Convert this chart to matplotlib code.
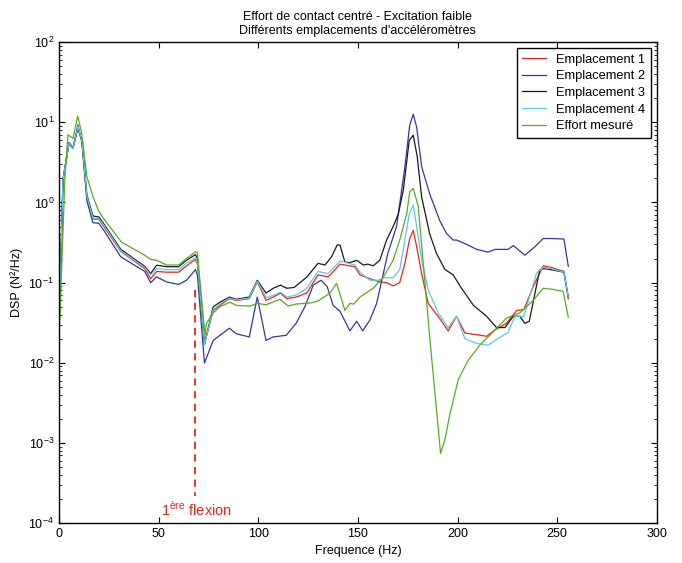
import matplotlib
matplotlib.use("Agg")
import matplotlib.pyplot as plt
from matplotlib.ticker import LogLocator, NullFormatter

plt.rcParams['font.family'] = ['Liberation Sans', 'DejaVu Sans']
plt.rcParams['mathtext.fontset'] = 'custom'
plt.rcParams['mathtext.rm'] = 'Liberation Sans'

# common low-frequency part (0 - 70 Hz)
f_low = [0, 2, 5, 7, 9.5, 11.5, 14, 17, 20, 23, 31, 43, 46, 49, 54, 60, 64, 68.5, 69.5, 73]

# Emplacement 1
f1 = f_low + [77.4, 80.8, 85.5, 89, 95.5, 99.5, 103.9, 107.5, 111.2, 114.3, 119, 124.3,
              130, 135, 136.8, 141, 148.5, 151, 156, 161, 164.4, 167.7, 171, 173.6, 176,
              177.8, 179.5, 182, 185.3, 190.3, 195.3, 199.5, 203.7, 209.6, 214.6, 218.8,
              224.6, 229.7, 233.3, 238, 243, 247, 253.4, 255.6]
dsp1 = [0.025, 1.9, 5.4, 4.7, 8.6, 5.8, 1.15, 0.62, 0.62, 0.48, 0.245, 0.15, 0.112, 0.138,
        0.135, 0.135, 0.162, 0.195, 0.17, 0.017,
        0.045, 0.052, 0.063, 0.06, 0.063, 0.102, 0.06, 0.066, 0.074, 0.063, 0.066, 0.074,
        0.125, 0.118, 0.13, 0.17, 0.158, 0.125, 0.112, 0.102, 0.10, 0.091, 0.10, 0.174, 0.355,
        0.45, 0.28, 0.13, 0.055, 0.038, 0.025, 0.038, 0.0235, 0.0224, 0.0214, 0.0257,
        0.031, 0.045, 0.046, 0.089, 0.162, 0.155, 0.138, 0.063]

# Emplacement 2
f2 = f_low + [77.4, 80.8, 85.5, 89, 95.5, 99.5, 103.9, 107.5, 114, 119, 123.4, 127.6,
              131.5, 134.6, 137.6, 141, 146, 149.4, 152.4, 156, 159.4, 165, 169.4, 173.6,
              176, 177.8, 179.5, 182, 186, 191, 194.5, 197.8, 199.5, 204.6, 209.6, 215.4,
              218.8, 225.4, 228, 233.8, 238.8, 243, 247.2, 253.4, 255.6]
dsp2 = [0.025, 1.9, 5.6, 4.8, 9.3, 5.6, 1.05, 0.56, 0.55, 0.43, 0.21, 0.138, 0.10, 0.118,
        0.102, 0.095, 0.107, 0.145, 0.123, 0.0099,
        0.019, 0.022, 0.027, 0.023, 0.021, 0.066, 0.019, 0.021, 0.022, 0.031, 0.05, 0.093,
        0.107, 0.089, 0.052, 0.044, 0.025, 0.033, 0.025, 0.034, 0.055, 0.23, 0.50, 2.8,
        9.2, 12.6, 8.7, 2.8, 1.29, 0.60, 0.41, 0.34, 0.34, 0.30, 0.26, 0.24,
        0.26, 0.26, 0.29, 0.22, 0.28, 0.355, 0.355, 0.35, 0.16]

# Emplacement 3
f3 = f_low + [77.4, 80.8, 85.5, 89, 95.5, 99.5, 103.9, 107.5, 111.2, 114.3, 118, 124.3,
              130, 133.5, 136.8, 139.6, 141, 143.5, 146, 149.4, 152.7, 155, 157.7, 161,
              164.4, 167.7, 170.3, 172.8, 175.8, 177.8, 179.8, 182, 186, 189.5, 193.7,
              197.8, 202, 208, 214.6, 219.6, 223.8, 228, 231.3, 233.8, 236, 241.3, 243.3,
              247, 253.4, 255.6]
dsp3 = [0.025, 1.9, 5.5, 4.8, 8.5, 6.0, 1.25, 0.68, 0.66, 0.52, 0.26, 0.16, 0.13, 0.165,
        0.158, 0.158, 0.19, 0.224, 0.2, 0.017,
        0.05, 0.057, 0.066, 0.062, 0.066, 0.107, 0.074, 0.085, 0.093, 0.085, 0.087, 0.117,
        0.174, 0.166, 0.21, 0.295, 0.295, 0.18, 0.178, 0.19, 0.166, 0.17, 0.162, 0.19,
        0.34, 0.50, 0.72, 1.43, 6.0, 6.9, 3.7, 1.17, 0.41, 0.23, 0.146,
        0.125, 0.085, 0.052, 0.038, 0.0275, 0.0275, 0.038, 0.038, 0.031, 0.033, 0.145,
        0.15, 0.145, 0.135, 0.066]

# Emplacement 4
f4 = f_low + [77.4, 80.8, 85.5, 89, 95.5, 99.5, 103.9, 107.5, 111.2, 114.3, 119, 124.3,
              130, 135, 141, 148.5, 151, 156, 160, 163.6, 167.7, 171, 173.6, 175.8, 177.8,
              179.5, 182, 185.3, 190.3, 195.3, 199.5, 203.7, 209.6, 215.4, 219.6, 225.4,
              228.8, 233.3, 239.7, 243, 247, 253.4, 255.6]
dsp4 = [0.025, 1.9, 5.5, 4.7, 8.9, 5.9, 1.2, 0.64, 0.63, 0.50, 0.25, 0.155, 0.125, 0.15,
        0.145, 0.145, 0.175, 0.204, 0.18, 0.017,
        0.046, 0.054, 0.064, 0.061, 0.064, 0.104, 0.065, 0.069, 0.076, 0.066, 0.07, 0.085,
        0.138, 0.129, 0.186, 0.166, 0.135, 0.107, 0.107, 0.115, 0.115, 0.145, 0.34, 0.72,
        0.93, 0.50, 0.19, 0.081, 0.042, 0.0275, 0.038, 0.02, 0.0174, 0.0166, 0.0195,
        0.024, 0.038, 0.038, 0.132, 0.155, 0.15, 0.135, 0.066]

# Effort mesure
f5 = [0, 3, 4.5, 7, 9.4, 11.4, 14, 17, 19.7, 23, 31.4, 43, 46, 49, 54, 60, 64, 68.2, 69.4,
      73.3, 74, 77.4, 80.8, 85.8, 89, 95.8, 99.5, 104, 110.9, 115, 119, 126.8, 130, 136,
      139.3, 143.5, 146, 148, 151, 157.7, 162.7, 167.7, 171, 174.5, 176, 177.8, 180.3,
      186.2, 191.5, 193.7, 196.2, 200.4, 205.4, 211.2, 218, 224.6, 231.3, 238, 243, 247,
      253, 255.6]
dsp5 = [0.018, 2.1, 7.0, 6.3, 12.0, 7.3, 2.1, 1.2, 0.80, 0.60, 0.32, 0.22, 0.195, 0.19,
        0.166, 0.166, 0.20, 0.24, 0.24,
        0.022, 0.031, 0.042, 0.05, 0.057, 0.052, 0.051, 0.055, 0.053, 0.062, 0.051, 0.054,
        0.056, 0.059, 0.074, 0.098, 0.045, 0.055, 0.054, 0.066, 0.085, 0.117, 0.19, 0.34,
        0.72, 1.35, 1.5, 0.89, 0.019, 0.00074, 0.0011, 0.0023, 0.0062, 0.0108, 0.0166,
        0.0245, 0.036, 0.042, 0.06, 0.085, 0.083, 0.078, 0.037]

labels = ["Emplacement 1", "Emplacement 2", "Emplacement 3", "Emplacement 4", "Effort mesuré"]
colors = ["#e8231f", "#35379a", "#1a1a1a", "#5cc9e3", "#5aaa22"]

fig = plt.figure(figsize=(6.82, 5.63), dpi=100)
ax = fig.add_axes([0.0865, 0.071, 0.8765, 0.854])

for f, d, lab, c in zip([f1, f2, f3, f4, f5], [dsp1, dsp2, dsp3, dsp4, dsp5], labels, colors):
	ax.semilogy(f, d, color=c, lw=0.9, label=lab)

# first bending mode marker
ax.plot([68.5, 68.5], [0.082, 2.2e-4], color="#e8231f", ls=(0, (4, 3)), lw=1.3)
ax.text(51, 1.25e-4, r"1$^{\mathrm{ère}}$ flexion", color="#e8231f", fontsize=10.5)

ax.set_xlim(0, 300)
ax.set_ylim(1e-4, 1e2)
ax.set_xticks([0, 50, 100, 150, 200, 250, 300])
ax.yaxis.set_major_locator(LogLocator(base=10, numticks=10))
ax.yaxis.set_minor_locator(LogLocator(base=10, subs=range(2, 10), numticks=10))
ax.yaxis.set_minor_formatter(NullFormatter())
ax.tick_params(which="both", direction="in", top=True, right=True, labelsize=9)
ax.tick_params(which="major", length=4)
ax.tick_params(which="minor", length=2)
for s in ax.spines.values():
	s.set_linewidth(1.0)

ax.set_xlabel("Frequence (Hz)", fontsize=9)
ax.set_ylabel("DSP (N²/Hz)", fontsize=9)
ax.set_title("Effort de contact centré - Excitation faible\nDifférents emplacements d'accéléromètres",
             fontsize=9, linespacing=1.2)

leg = ax.legend(loc="upper right", fontsize=9.3, fancybox=False, edgecolor="black",
                framealpha=1, borderaxespad=0.45, handlelength=1.8, handletextpad=0.8,
                labelspacing=0.35, borderpad=0.45)
leg.get_frame().set_linewidth(1.0)

fig.savefig("out.png", dpi=100)
